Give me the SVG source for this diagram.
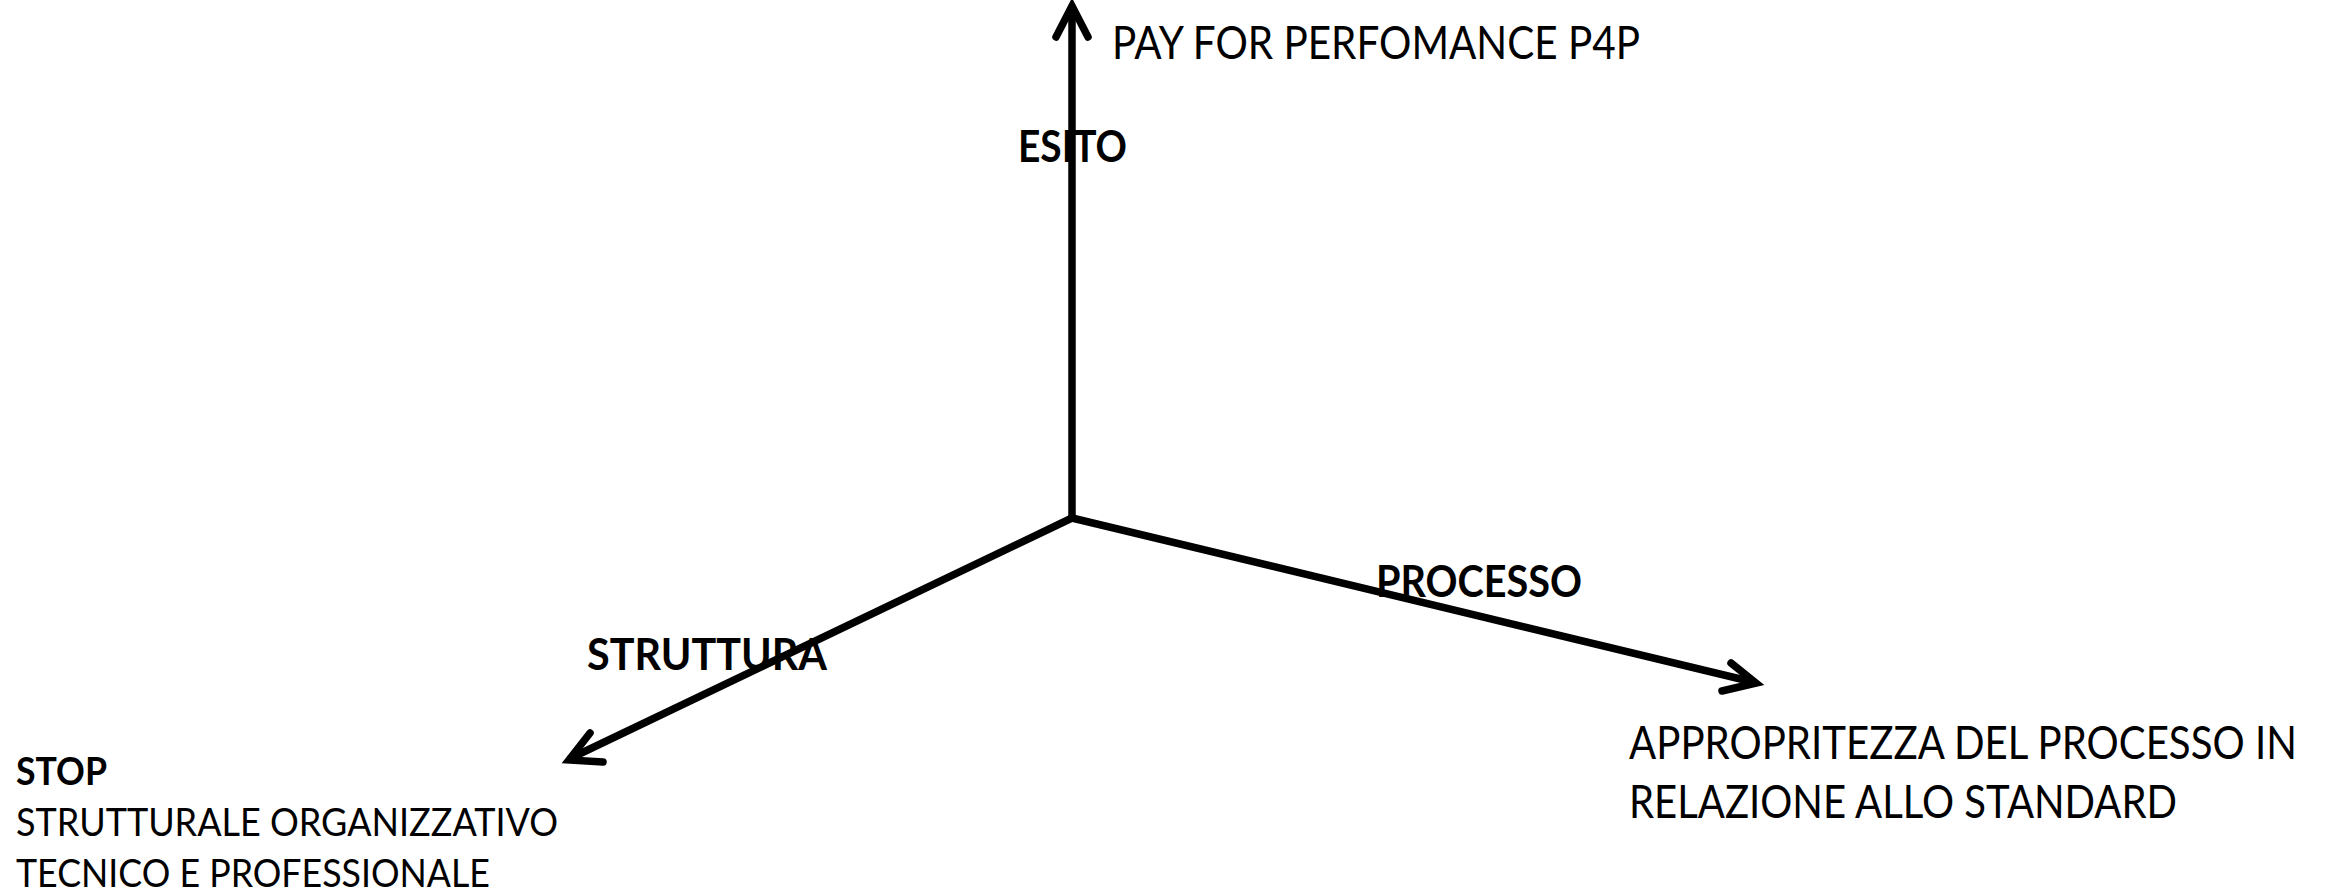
<svg xmlns="http://www.w3.org/2000/svg" width="2328" height="894" viewBox="0 0 2328 894">
<style>
.ax{stroke:#000;stroke-width:7.5;fill:none;stroke-linecap:round;stroke-linejoin:miter}
.t{font-family:Lato,"Open Sans","Liberation Sans",sans-serif;fill:#000}
.n{font-size:47px}
.b{font-size:43px;font-weight:bold}
.s{font-size:39px}
</style>
<rect width="2328" height="894" fill="#fff"/>
<g id="connectors">
<line class="ax" x1="1072" y1="518" x2="1072" y2="8"/>
<polyline class="ax" points="1056,37 1072,6 1088,37"/>
<line class="ax" x1="1072" y1="518" x2="1753" y2="682"/>
<polyline class="ax" points="1731,663 1756,683 1722,691"/>
<line class="ax" x1="1072" y1="518" x2="571" y2="758"/>
<polyline class="ax" points="590,733 569,760 603,762"/>
</g>
<g id="esito">
<text class="t b" x="1018" y="162" textLength="109" lengthAdjust="spacingAndGlyphs">ESITO</text>
</g>
<g id="p4p">
<text class="t n" x="1112" y="59" textLength="528" lengthAdjust="spacingAndGlyphs">PAY FOR PERFOMANCE P4P</text>
</g>
<g id="processo">
<text class="t b" x="1376" y="597" textLength="206" lengthAdjust="spacingAndGlyphs">PROCESSO</text>
</g>
<g id="appropriatezza">
<text class="t n" x="1629" y="759" textLength="668" lengthAdjust="spacingAndGlyphs">APPROPRITEZZA DEL PROCESSO IN</text>
<text class="t n" x="1629" y="818" textLength="548" lengthAdjust="spacingAndGlyphs">RELAZIONE ALLO STANDARD</text>
</g>
<g id="struttura">
<text class="t b" x="587" y="670" textLength="240" lengthAdjust="spacingAndGlyphs">STRUTTURA</text>
</g>
<g id="stop">
<text class="t s" x="16" y="785" font-weight="bold" textLength="91" lengthAdjust="spacingAndGlyphs">STOP</text>
<text class="t s" x="16" y="836" textLength="542" lengthAdjust="spacingAndGlyphs">STRUTTURALE ORGANIZZATIVO</text>
<text class="t s" x="16" y="887" textLength="474" lengthAdjust="spacingAndGlyphs">TECNICO E PROFESSIONALE</text>
</g>
</svg>
